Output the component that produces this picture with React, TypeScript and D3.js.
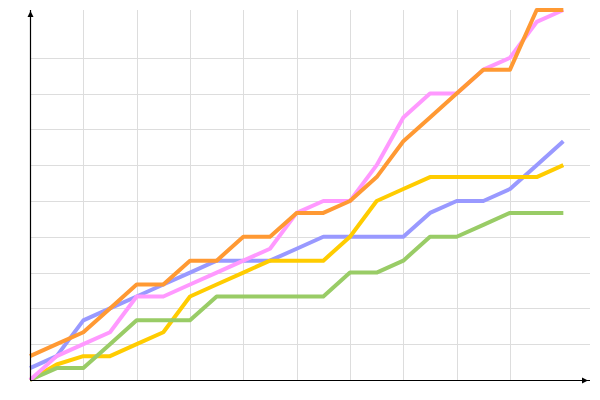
import React, { useEffect, useRef } from "react";
import * as d3 from "d3";

// x positions 0..20
const steps = d3.range(0, 21);

const pinkValues = [0, 2, 3, 4, 7, 7, 8, 9, 10, 11, 14, 15, 15, 18, 22, 24, 24, 26, 27, 30, 31];
const orangeValues = [2, 3, 4, 6, 8, 8, 10, 10, 12, 12, 14, 14, 15, 17, 20, 22, 24, 26, 26, 31, 31];
const blueValues = [1, 2, 5, 6, 7, 8, 9, 10, 10, 10, 11, 12, 12, 12, 12, 14, 15, 15, 16, 18, 20];
const yellowValues = [0, 1.3, 2, 2, 3, 4, 7, 8, 9, 10, 10, 10, 12, 15, 16, 17, 17, 17, 17, 17, 18];
const greenValues = [0, 1, 1, 3, 5, 5, 5, 7, 7, 7, 7, 7, 9, 9, 10, 12, 12, 13, 14, 14, 14];

const xGridTicks = [2, 4, 6, 8, 10, 12, 14, 16, 18];
const yGridTicks = [3, 6, 9, 12, 15, 18, 21, 24, 27];

const series = [
  { name: "blue", color: "#9999ff", values: blueValues },
  { name: "yellow", color: "#ffcc00", values: yellowValues },
  { name: "green", color: "#99cc66", values: greenValues },
  { name: "pink", color: "#ff99ff", values: pinkValues },
  { name: "orange", color: "#ff9933", values: orangeValues },
];

const App = () => {
  const ref: any = useRef();
  const width = 600;
  const height = 400;
  const margin = { top: 10, right: 10, bottom: 20, left: 30 };

  useEffect(() => {
    document.body.style.margin = "0";
    const svg = d3.select(ref.current);
    svg.selectAll("*").remove();

    const xScale = d3
      .scaleLinear()
      .domain([0, 21])
      .range([margin.left, width - margin.right]);
    const yScale = d3
      .scaleLinear()
      .domain([0, 31])
      .range([height - margin.bottom, margin.top]);

    // grid
    const grid = svg.append("g").attr("stroke", "#dddddd").attr("stroke-width", 1);
    grid
      .selectAll("line.v")
      .data(xGridTicks)
      .join("line")
      .attr("class", "v")
      .attr("x1", (d) => Math.round(xScale(d)) + 0.5)
      .attr("x2", (d) => Math.round(xScale(d)) + 0.5)
      .attr("y1", yScale.range()[1])
      .attr("y2", yScale.range()[0]);
    grid
      .selectAll("line.h")
      .data(yGridTicks)
      .join("line")
      .attr("class", "h")
      .attr("x1", xScale.range()[0])
      .attr("x2", xScale.range()[1])
      .attr("y1", (d) => Math.round(yScale(d)) + 0.5)
      .attr("y2", (d) => Math.round(yScale(d)) + 0.5);

    // lines
    const line = d3
      .line<number>()
      .x((_, i) => xScale(steps[i]))
      .y((d) => yScale(d));

    svg
      .append("g")
      .selectAll("path")
      .data(series)
      .join("path")
      .attr("d", (d) => line(d.values))
      .attr("fill", "none")
      .attr("stroke", (d) => d.color)
      .attr("stroke-width", 4)
      .attr("stroke-linejoin", "round");

    // axes with arrow heads
    const x0 = xScale(0);
    const y0 = yScale(0);
    const xEnd = xScale.range()[1];
    const yEnd = yScale.range()[1];
    const axes = svg.append("g");
    axes
      .append("line")
      .attr("x1", x0 + 0.5)
      .attr("x2", x0 + 0.5)
      .attr("y1", y0)
      .attr("y2", yEnd)
      .attr("stroke", "#000")
      .attr("stroke-width", 1.2);
    axes
      .append("line")
      .attr("x1", x0)
      .attr("x2", xEnd)
      .attr("y1", y0 + 0.5)
      .attr("y2", y0 + 0.5)
      .attr("stroke", "#000")
      .attr("stroke-width", 1.2);
    axes
      .append("path")
      .attr("d", `M${x0 + 0.5},${yEnd + 1} L${x0 + 3.5},${yEnd + 7} L${x0 - 2.5},${yEnd + 7} Z`)
      .attr("fill", "#000");
    axes
      .append("path")
      .attr("d", `M${xEnd - 2},${y0 + 0.5} L${xEnd - 8},${y0 + 3.5} L${xEnd - 8},${y0 - 2.5} Z`)
      .attr("fill", "#000");
  }, []);

  return (
    <div className="chart">
      <svg ref={ref} width={width} height={height} style={{ display: "block" }}></svg>
    </div>
  );
};

export default App;
